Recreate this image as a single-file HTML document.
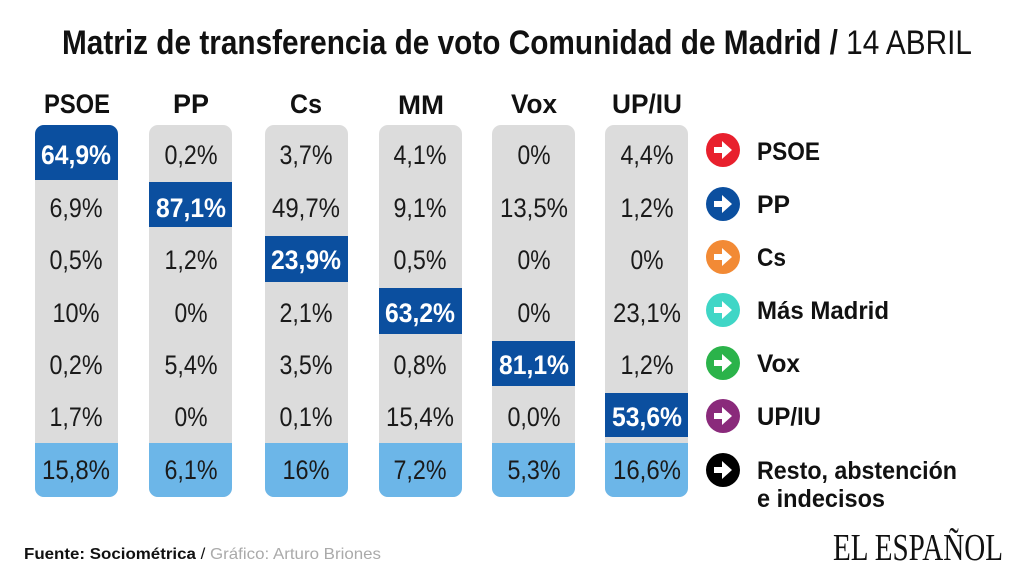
<!DOCTYPE html>
<html><head><meta charset="utf-8"><style>
html,body{margin:0;padding:0;background:#fff;}
svg{display:block;}
text{font-family:"Liberation Sans",sans-serif;}
.n{font-size:27px;fill:#1a1a1a;text-anchor:middle;}
.b{font-size:27px;fill:#fff;font-weight:bold;text-anchor:middle;}
.h{font-size:27px;font-weight:bold;fill:#111;text-anchor:middle;}
.l{font-size:25px;font-weight:bold;fill:#111;}
</style></head><body>
<svg width="1024" height="576" viewBox="0 0 1024 576" xmlns="http://www.w3.org/2000/svg">
<defs>
<clipPath id="c0"><rect x="35" y="125" width="83" height="372" rx="9"/></clipPath>
<clipPath id="c1"><rect x="149" y="125" width="83" height="372" rx="9"/></clipPath>
<clipPath id="c2"><rect x="265" y="125" width="83" height="372" rx="9"/></clipPath>
<clipPath id="c3"><rect x="379" y="125" width="83" height="372" rx="9"/></clipPath>
<clipPath id="c4"><rect x="492" y="125" width="83" height="372" rx="9"/></clipPath>
<clipPath id="c5"><rect x="605" y="125" width="83" height="372" rx="9"/></clipPath>
<g id="arr"><path d="M-9,-3 h8 v-6 l10,9 l-10,9 v-6 h-8 z" fill="#fff"/></g>
</defs>
<text x="517" y="54" text-anchor="middle" font-size="34" textLength="910" lengthAdjust="spacingAndGlyphs" fill="#111"><tspan font-weight="bold">Matriz de transferencia de voto Comunidad de Madrid /</tspan> 14 ABRIL</text>

<text class="h" x="77" y="113" textLength="66" lengthAdjust="spacingAndGlyphs">PSOE</text>
<text class="h" x="191" y="113" textLength="36" lengthAdjust="spacingAndGlyphs">PP</text>
<text class="h" x="306" y="113" textLength="32" lengthAdjust="spacingAndGlyphs">Cs</text>
<text class="h" x="421" y="114" textLength="46" lengthAdjust="spacingAndGlyphs">MM</text>
<text class="h" x="534" y="113" textLength="46" lengthAdjust="spacingAndGlyphs">Vox</text>
<text class="h" x="647" y="113" textLength="70" lengthAdjust="spacingAndGlyphs">UP/IU</text>

<g clip-path="url(#c0)"><rect x="35" y="125" width="83" height="372" fill="#dcdcdc"/><rect x="35" y="125" width="83" height="55" fill="#0b4f9f"/><rect x="35" y="443" width="83" height="54" fill="#6cb6e8"/></g>
<g clip-path="url(#c1)"><rect x="149" y="125" width="83" height="372" fill="#dcdcdc"/><rect x="149" y="182" width="83" height="45" fill="#0b4f9f"/><rect x="149" y="443" width="83" height="54" fill="#6cb6e8"/></g>
<g clip-path="url(#c2)"><rect x="265" y="125" width="83" height="372" fill="#dcdcdc"/><rect x="265" y="236" width="83" height="46" fill="#0b4f9f"/><rect x="265" y="443" width="83" height="54" fill="#6cb6e8"/></g>
<g clip-path="url(#c3)"><rect x="379" y="125" width="83" height="372" fill="#dcdcdc"/><rect x="379" y="288" width="83" height="46" fill="#0b4f9f"/><rect x="379" y="443" width="83" height="54" fill="#6cb6e8"/></g>
<g clip-path="url(#c4)"><rect x="492" y="125" width="83" height="372" fill="#dcdcdc"/><rect x="492" y="341" width="83" height="45" fill="#0b4f9f"/><rect x="492" y="443" width="83" height="54" fill="#6cb6e8"/></g>
<g clip-path="url(#c5)"><rect x="605" y="125" width="83" height="372" fill="#dcdcdc"/><rect x="605" y="393" width="83" height="44" fill="#0b4f9f"/><rect x="605" y="443" width="83" height="54" fill="#6cb6e8"/></g>

<!-- PSOE -->
<text class="b" x="76" y="164" textLength="70" lengthAdjust="spacingAndGlyphs">64,9%</text>
<text class="n" x="76" y="217" textLength="53" lengthAdjust="spacingAndGlyphs">6,9%</text>
<text class="n" x="76" y="269" textLength="53" lengthAdjust="spacingAndGlyphs">0,5%</text>
<text class="n" x="76" y="322" textLength="47" lengthAdjust="spacingAndGlyphs">10%</text>
<text class="n" x="76" y="374" textLength="53" lengthAdjust="spacingAndGlyphs">0,2%</text>
<text class="n" x="76" y="426" textLength="53" lengthAdjust="spacingAndGlyphs">1,7%</text>
<text class="n" x="76" y="479" textLength="68" lengthAdjust="spacingAndGlyphs">15,8%</text>
<!-- PP -->
<text class="n" x="191" y="164" textLength="53" lengthAdjust="spacingAndGlyphs">0,2%</text>
<text class="b" x="191" y="217" textLength="70" lengthAdjust="spacingAndGlyphs">87,1%</text>
<text class="n" x="191" y="269" textLength="53" lengthAdjust="spacingAndGlyphs">1,2%</text>
<text class="n" x="191" y="322" textLength="33" lengthAdjust="spacingAndGlyphs">0%</text>
<text class="n" x="191" y="374" textLength="53" lengthAdjust="spacingAndGlyphs">5,4%</text>
<text class="n" x="191" y="426" textLength="33" lengthAdjust="spacingAndGlyphs">0%</text>
<text class="n" x="191" y="479" textLength="53" lengthAdjust="spacingAndGlyphs">6,1%</text>
<!-- Cs -->
<text class="n" x="306" y="164" textLength="53" lengthAdjust="spacingAndGlyphs">3,7%</text>
<text class="n" x="306" y="217" textLength="68" lengthAdjust="spacingAndGlyphs">49,7%</text>
<text class="b" x="306" y="269" textLength="70" lengthAdjust="spacingAndGlyphs">23,9%</text>
<text class="n" x="306" y="322" textLength="53" lengthAdjust="spacingAndGlyphs">2,1%</text>
<text class="n" x="306" y="374" textLength="53" lengthAdjust="spacingAndGlyphs">3,5%</text>
<text class="n" x="306" y="426" textLength="53" lengthAdjust="spacingAndGlyphs">0,1%</text>
<text class="n" x="306" y="479" textLength="47" lengthAdjust="spacingAndGlyphs">16%</text>
<!-- MM -->
<text class="n" x="420" y="164" textLength="53" lengthAdjust="spacingAndGlyphs">4,1%</text>
<text class="n" x="420" y="217" textLength="53" lengthAdjust="spacingAndGlyphs">9,1%</text>
<text class="n" x="420" y="269" textLength="53" lengthAdjust="spacingAndGlyphs">0,5%</text>
<text class="b" x="420" y="322" textLength="70" lengthAdjust="spacingAndGlyphs">63,2%</text>
<text class="n" x="420" y="374" textLength="53" lengthAdjust="spacingAndGlyphs">0,8%</text>
<text class="n" x="420" y="426" textLength="68" lengthAdjust="spacingAndGlyphs">15,4%</text>
<text class="n" x="420" y="479" textLength="53" lengthAdjust="spacingAndGlyphs">7,2%</text>
<!-- Vox -->
<text class="n" x="534" y="164" textLength="33" lengthAdjust="spacingAndGlyphs">0%</text>
<text class="n" x="534" y="217" textLength="68" lengthAdjust="spacingAndGlyphs">13,5%</text>
<text class="n" x="534" y="269" textLength="33" lengthAdjust="spacingAndGlyphs">0%</text>
<text class="n" x="534" y="322" textLength="33" lengthAdjust="spacingAndGlyphs">0%</text>
<text class="b" x="534" y="374" textLength="70" lengthAdjust="spacingAndGlyphs">81,1%</text>
<text class="n" x="534" y="426" textLength="53" lengthAdjust="spacingAndGlyphs">0,0%</text>
<text class="n" x="534" y="479" textLength="53" lengthAdjust="spacingAndGlyphs">5,3%</text>
<!-- UP -->
<text class="n" x="647" y="164" textLength="53" lengthAdjust="spacingAndGlyphs">4,4%</text>
<text class="n" x="647" y="217" textLength="53" lengthAdjust="spacingAndGlyphs">1,2%</text>
<text class="n" x="647" y="269" textLength="33" lengthAdjust="spacingAndGlyphs">0%</text>
<text class="n" x="647" y="322" textLength="68" lengthAdjust="spacingAndGlyphs">23,1%</text>
<text class="n" x="647" y="374" textLength="53" lengthAdjust="spacingAndGlyphs">1,2%</text>
<text class="b" x="647" y="426" textLength="70" lengthAdjust="spacingAndGlyphs">53,6%</text>
<text class="n" x="647" y="479" textLength="68" lengthAdjust="spacingAndGlyphs">16,6%</text>

<!-- legend -->
<g><circle cx="723" cy="150" r="17" fill="#e8202d"/><use href="#arr" x="723" y="150"/></g>
<g><circle cx="723" cy="204" r="17" fill="#0b4f9f"/><use href="#arr" x="723" y="204"/></g>
<g><circle cx="723" cy="257" r="17" fill="#f28a35"/><use href="#arr" x="723" y="257"/></g>
<g><circle cx="723" cy="310" r="17" fill="#3fd6c6"/><use href="#arr" x="723" y="310"/></g>
<g><circle cx="723" cy="363" r="17" fill="#2bb34a"/><use href="#arr" x="723" y="363"/></g>
<g><circle cx="723" cy="416" r="17" fill="#8a2a7b"/><use href="#arr" x="723" y="416"/></g>
<g><circle cx="723" cy="470" r="17" fill="#000"/><use href="#arr" x="723" y="470"/></g>
<text class="l" x="757" y="160" textLength="63" lengthAdjust="spacingAndGlyphs">PSOE</text>
<text class="l" x="757" y="213" textLength="33" lengthAdjust="spacingAndGlyphs">PP</text>
<text class="l" x="757" y="266" textLength="29" lengthAdjust="spacingAndGlyphs">Cs</text>
<text class="l" x="757" y="319" textLength="132" lengthAdjust="spacingAndGlyphs">Más Madrid</text>
<text class="l" x="757" y="372" textLength="43" lengthAdjust="spacingAndGlyphs">Vox</text>
<text class="l" x="757" y="425" textLength="64" lengthAdjust="spacingAndGlyphs">UP/IU</text>
<text class="l" x="757" y="479" textLength="200" lengthAdjust="spacingAndGlyphs">Resto, abstención</text>
<text class="l" x="757" y="507" textLength="128" lengthAdjust="spacingAndGlyphs">e indecisos</text>
<text x="833" y="560" style="font-family:'Liberation Serif',serif" font-size="38" textLength="170" lengthAdjust="spacingAndGlyphs" fill="#111">EL ESPAÑOL</text>
<text x="24" y="559" font-size="16" textLength="357" lengthAdjust="spacingAndGlyphs"><tspan font-weight="bold" fill="#111">Fuente: Sociométrica</tspan><tspan fill="#111"> / </tspan><tspan fill="#aaa">Gráfico: Arturo Briones</tspan></text>
</svg>
</body></html>
